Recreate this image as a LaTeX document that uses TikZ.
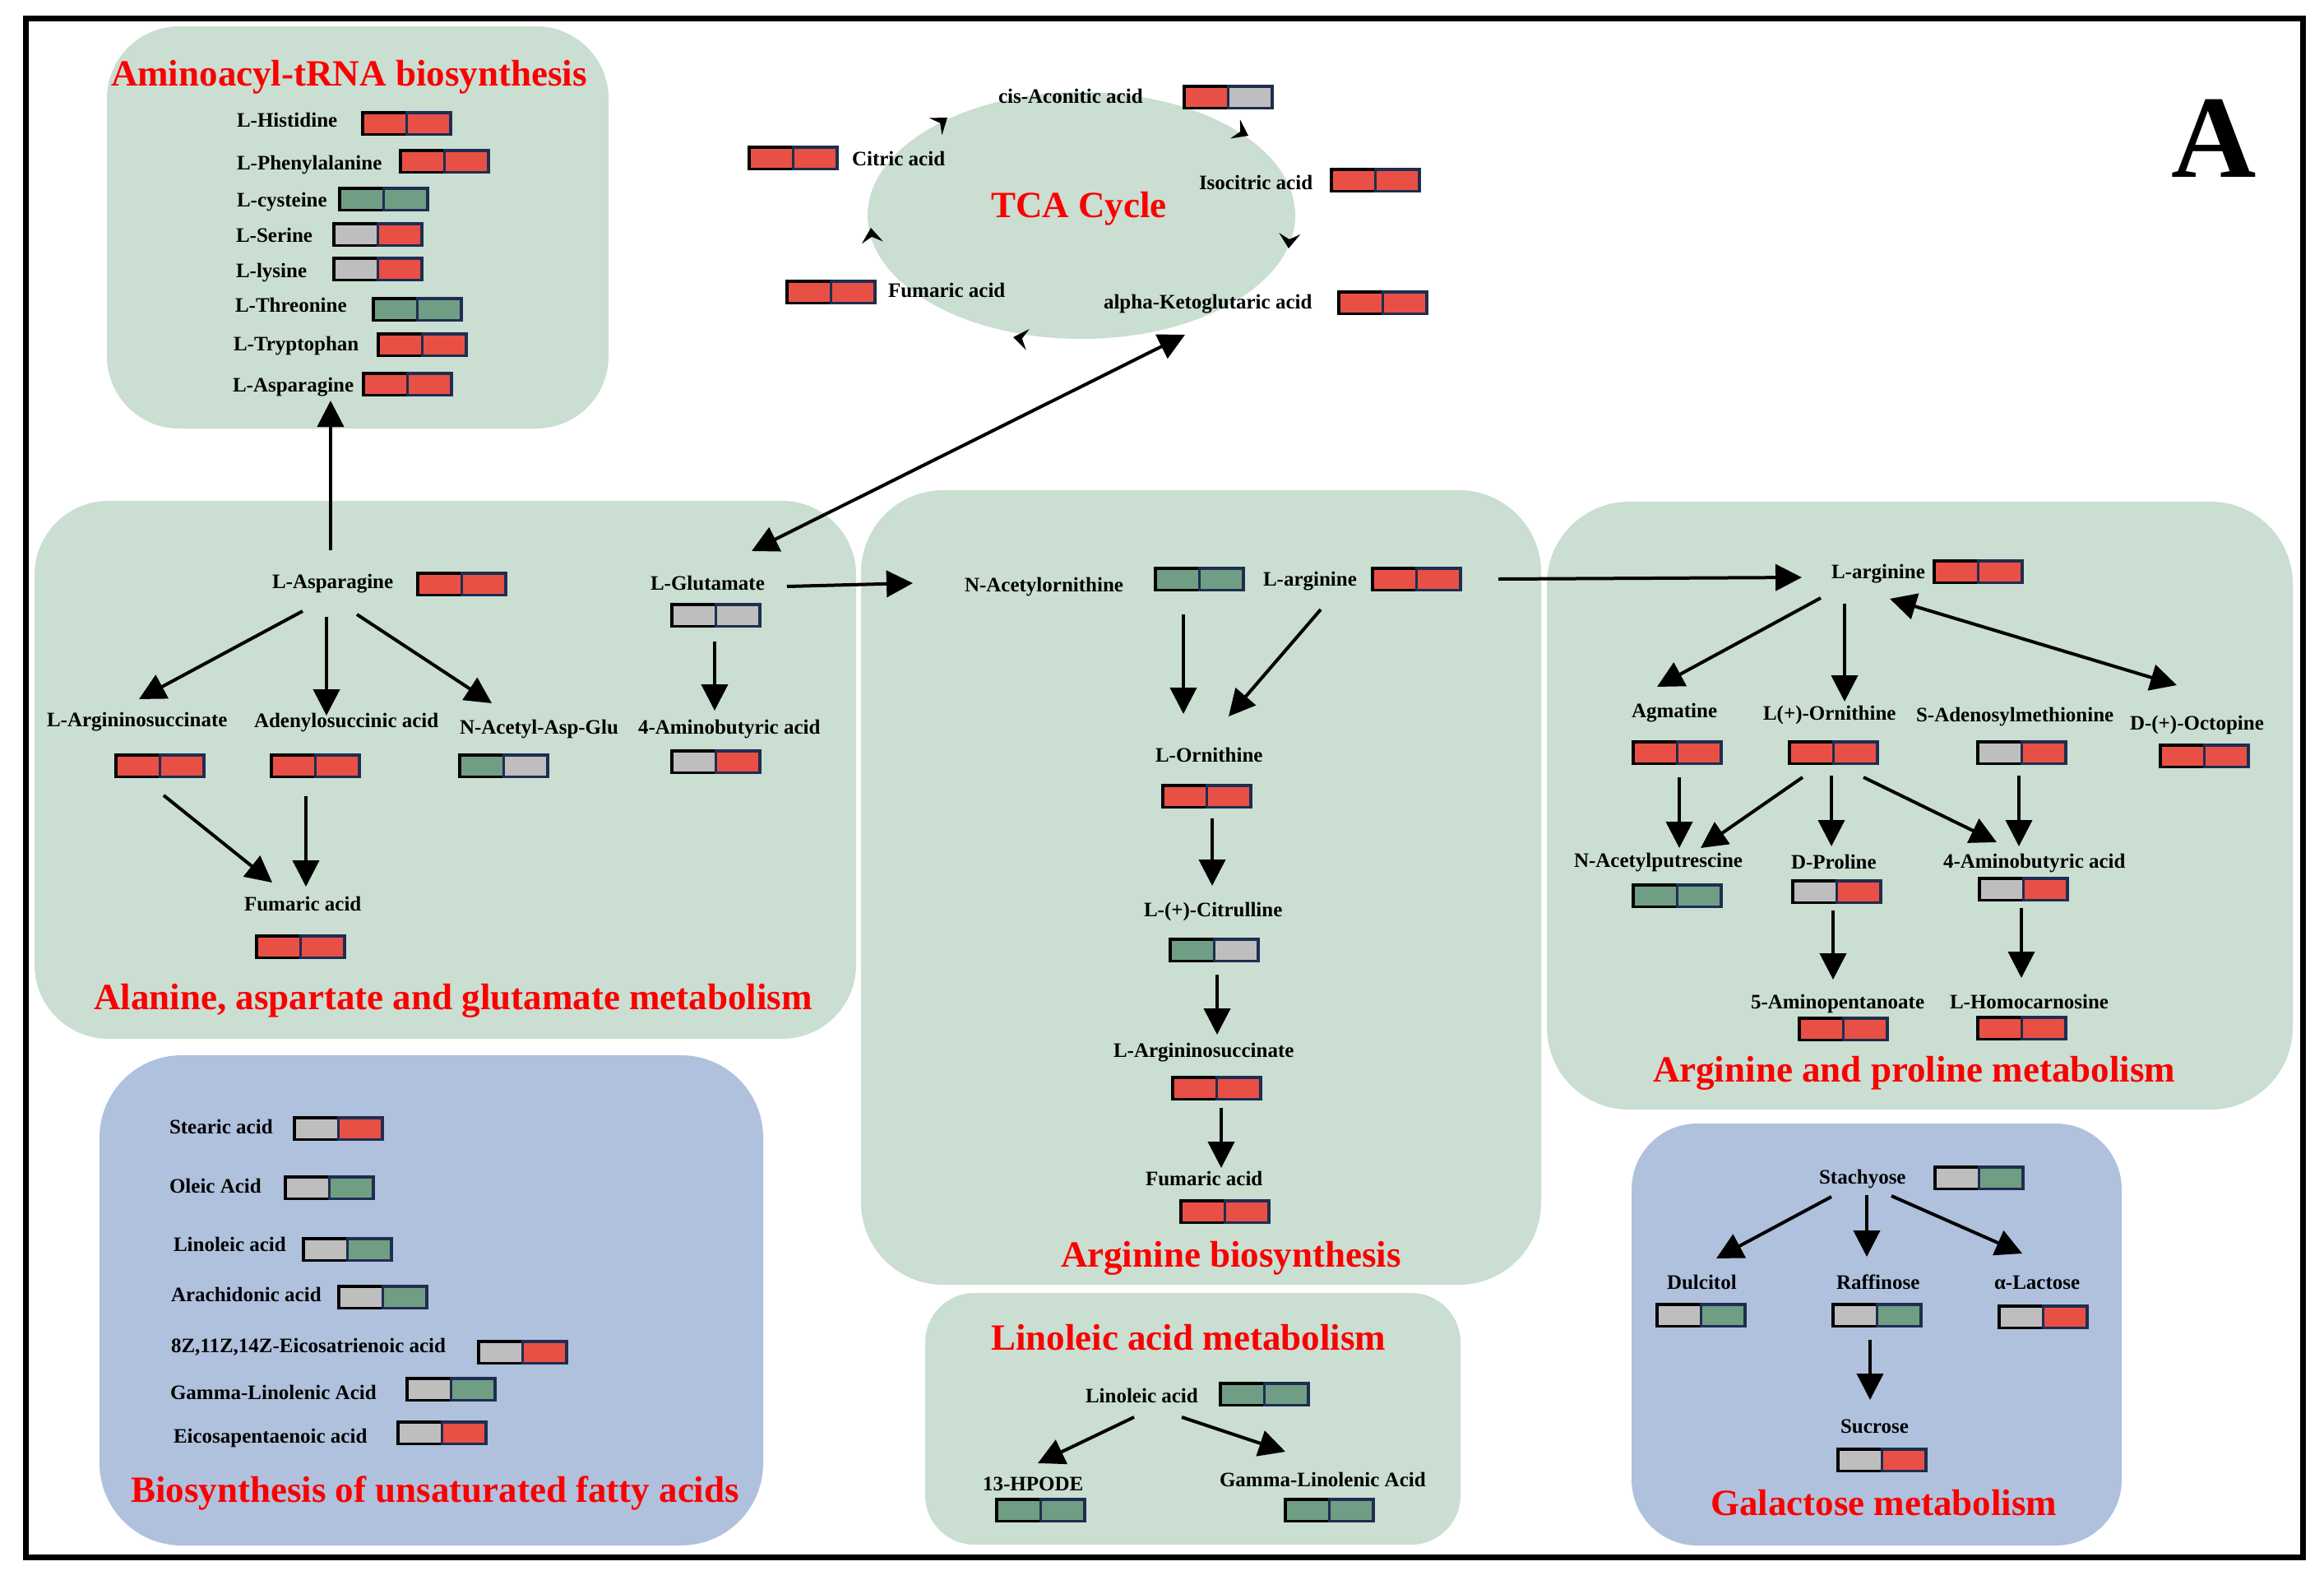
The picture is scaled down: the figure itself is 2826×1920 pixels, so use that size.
\documentclass[tikz,border=0pt]{standalone}
\usepackage{fontspec}
\setmainfont{Liberation Serif}
\usetikzlibrary{arrows.meta,calc,shapes.geometric}
\definecolor{panelG}{RGB}{202,222,210}
\definecolor{panelB}{RGB}{176,193,222}
\definecolor{sR}{RGB}{232,80,70}
\definecolor{sG}{RGB}{112,158,132}
\definecolor{sY}{RGB}{190,190,190}
\definecolor{navy}{RGB}{30,45,80}
\definecolor{titlered}{RGB}{250,0,0}
\newcommand\swatch[5]{\node[swl,fill=#4] (#1a) at (#2+28.5,#3) {};\node[swr,fill=#5] (#1b) at (#2+82,#3) {};}
\newcommand\tcahead[3]{\fill[shift={(#1,#2)},rotate=#3] (0,0) -- (-18,-13) -- (-11,0) -- (-18,13) -- cycle;}
\tikzset{
  lbl/.style={inner sep=0pt, outer sep=0pt, font=\bfseries\fontsize{25}{30}\selectfont, anchor=base west},
  ttl/.style={inner sep=0pt, outer sep=0pt, text=titlered, font=\bfseries\fontsize{45}{54}\selectfont, anchor=base west},
  swl/.style={draw=black, line width=3.5pt, minimum width=53.5pt, minimum height=26.5pt, inner sep=0pt, outer sep=0pt},
  swr/.style={swl, draw=navy},
  arr/.style={line width=4pt, -{Triangle[length=32pt,width=32pt]}},
  darr/.style={line width=4pt, {Triangle[length=32pt,width=32pt]}-{Triangle[length=32pt,width=32pt]}},
}
\begin{document}
\begin{tikzpicture}[x=1pt,y=-1pt]
\fill[white] (0,0) rectangle (2826,1920);
\useasboundingbox (0,0) rectangle (2826,1920);
% panels
\fill[panelG, rounded corners=88pt] (130,32) rectangle (740,521);
\fill[panelG, rounded corners=90pt] (42,609) rectangle (1041,1263);
\fill[panelG, rounded corners=100pt] (1047,596) rectangle (1874,1562);
\fill[panelG, rounded corners=100pt] (1881,610) rectangle (2788,1349);
\fill[panelB, rounded corners=100pt] (121,1283) rectangle (928,1879);
\fill[panelG, rounded corners=60pt] (1125,1572) rectangle (1776,1878);
\fill[panelB, rounded corners=80pt] (1984,1366) rectangle (2580,1879);
\node[ellipse, fill=panelG, minimum width=520pt, minimum height=300pt, inner sep=0pt] (tca) at (1315,262) {};
% frame
\draw[line width=7pt] (31,22) rectangle (2800,1893);
\node[inner sep=0pt, anchor=base west, font=\bfseries\fontsize{143}{150}\selectfont] (panelA) at (2640,215) {A};
% titles
\node[ttl] (aminoT) at (135,104) {Aminoacyl-tRNA biosynthesis};
\node[ttl] (tcaT) at (1205,264) {TCA Cycle};
\node[ttl] (alaT) at (114,1227) {Alanine, aspartate and glutamate metabolism};
\node[ttl] (argbT) at (1290,1540) {Arginine biosynthesis};
\node[ttl] (argpT) at (2010,1315) {Arginine and proline metabolism};
\node[ttl] (fatT) at (159,1826) {Biosynthesis of unsaturated fatty acids};
\node[ttl] (linT) at (1205,1641) {Linoleic acid metabolism};
\node[ttl] (galT) at (2080,1842) {Galactose metabolism};
% Aminoacyl-tRNA
\node[lbl] (his) at (288,154) {L-Histidine};
\node[lbl] (phe) at (288,206) {L-Phenylalanine};
\node[lbl] (cys) at (288,251) {L-cysteine};
\node[lbl] (ser) at (287,294) {L-Serine};
\node[lbl] (lys) at (287,337) {L-lysine};
\node[lbl] (thr) at (286,379) {L-Threonine};
\node[lbl] (trp) at (284,426) {L-Tryptophan};
\node[lbl] (asn1) at (283,476) {L-Asparagine};
\swatch{hisS}{439}{150}{sR}{sR}
\swatch{pheS}{485}{196}{sR}{sR}
\swatch{cysS}{411}{242}{sG}{sG}
\swatch{serS}{404}{285}{sY}{sR}
\swatch{lysS}{404}{327}{sY}{sR}
\swatch{thrS}{452}{376}{sG}{sG}
\swatch{trpS}{458}{419}{sR}{sR}
\swatch{asn1S}{440}{467}{sR}{sR}
% TCA
\node[lbl] (cisacon) at (1214,125) {cis-Aconitic acid};
\node[lbl] (citric) at (1036,201) {Citric acid};
\node[lbl] (isocit) at (1458,230) {Isocitric acid};
\node[lbl] (fumT) at (1080,361) {Fumaric acid};
\node[lbl] (akg) at (1342,375) {alpha-Ketoglutaric acid};
\swatch{cisaconS}{1438}{118}{sR}{sY}
\swatch{citricS}{909}{192}{sR}{sR}
\swatch{isocitS}{1617}{219}{sR}{sR}
\swatch{fumTS}{955}{355}{sR}{sR}
\swatch{akgS}{1626}{368}{sR}{sR}
\tcahead{1152}{143}{37}
\tcahead{1518}{165}{-27}
\tcahead{1567}{302}{-94}
\tcahead{1232}{410}{171}
\tcahead{1059}{277}{96}
% Alanine, aspartate and glutamate
\node[lbl] (asnA) at (331,715) {L-Asparagine};
\node[lbl] (gluA) at (791,717) {L-Glutamate};
\node[lbl] (argsA) at (57,883) {L-Argininosuccinate};
\node[lbl] (adeA) at (309,884) {Adenylosuccinic acid};
\node[lbl] (naagA) at (559,892) {N-Acetyl-Asp-Glu};
\node[lbl] (gabaA) at (776,892) {4-Aminobutyric acid};
\node[lbl] (fumA) at (297,1107) {Fumaric acid};
\swatch{asnAS}{506}{710}{sR}{sR}
\swatch{gluAS}{815}{748}{sY}{sY}
\swatch{argsAS}{139}{931}{sR}{sR}
\swatch{adeAS}{328}{931}{sR}{sR}
\swatch{naagAS}{557}{931}{sG}{sY}
\swatch{gabaAS}{815}{926}{sY}{sR}
\swatch{fumAS}{310}{1151}{sR}{sR}
% Arginine biosynthesis
\node[lbl] (naorn) at (1173,719) {N-Acetylornithine};
\node[lbl] (argB) at (1536,712) {L-arginine};
\node[lbl] (ornB) at (1405,926) {L-Ornithine};
\node[lbl] (citB) at (1391,1114) {L-(+)-Citrulline};
\node[lbl] (argsB) at (1354,1285) {L-Argininosuccinate};
\node[lbl] (fumB) at (1393,1441) {Fumaric acid};
\swatch{naornS}{1403}{704}{sG}{sG}
\swatch{argBS}{1667}{704}{sR}{sR}
\swatch{ornBS}{1412}{968}{sR}{sR}
\swatch{citBS}{1421}{1155}{sG}{sY}
\swatch{argsBS}{1424}{1323}{sR}{sR}
\swatch{fumBS}{1434}{1473}{sR}{sR}
% Arginine and proline
\node[lbl] (argP) at (2227,703) {L-arginine};
\node[lbl] (agm) at (1984,872) {Agmatine};
\node[lbl] (ornP) at (2144,875) {L(+)-Ornithine};
\node[lbl] (sam) at (2330,877) {S-Adenosylmethionine};
\node[lbl] (oct) at (2590,887) {D-(+)-Octopine};
\node[lbl] (nap) at (1914,1054) {N-Acetylputrescine};
\node[lbl] (pro) at (2178,1056) {D-Proline};
\node[lbl] (gabaP) at (2363,1055) {4-Aminobutyric acid};
\node[lbl] (ava) at (2129,1226) {5-Aminopentanoate};
\node[lbl] (hcar) at (2371,1226) {L-Homocarnosine};
\swatch{argPS}{2350}{695}{sR}{sR}
\swatch{agmS}{1984}{915}{sR}{sR}
\swatch{ornPS}{2174}{915}{sR}{sR}
\swatch{samS}{2403}{915}{sY}{sR}
\swatch{octS}{2625}{919}{sR}{sR}
\swatch{napS}{1984}{1089}{sG}{sG}
\swatch{proS}{2178}{1084}{sY}{sR}
\swatch{gabaPS}{2405}{1081}{sY}{sR}
\swatch{avaS}{2186}{1251}{sR}{sR}
\swatch{hcarS}{2403}{1250}{sR}{sR}
% Fatty acids
\node[lbl] (stea) at (206,1378) {Stearic acid};
\node[lbl] (olei) at (206,1450) {Oleic Acid};
\node[lbl] (linF) at (211,1521) {Linoleic acid};
\node[lbl] (arac) at (208,1582) {Arachidonic acid};
\node[lbl] (eico3) at (208,1644) {8Z,11Z,14Z-Eicosatrienoic acid};
\node[lbl] (glaF) at (207,1701) {Gamma-Linolenic Acid};
\node[lbl] (epa) at (211,1754) {Eicosapentaenoic acid};
\swatch{steaS}{356}{1372}{sY}{sR}
\swatch{oleiS}{345}{1444}{sY}{sG}
\swatch{linFS}{367}{1519}{sY}{sG}
\swatch{aracS}{410}{1577}{sY}{sG}
\swatch{eico3S}{580}{1644}{sY}{sR}
\swatch{glaFS}{493}{1689}{sY}{sG}
\swatch{epaS}{482}{1742}{sY}{sR}
% Linoleic acid metabolism
\node[lbl] (linL) at (1320,1705) {Linoleic acid};
\node[lbl] (hpode) at (1195,1812) {13-HPODE};
\node[lbl] (glaL) at (1483,1807) {Gamma-Linolenic Acid};
\swatch{linLS}{1482}{1695}{sG}{sG}
\swatch{hpodeS}{1210}{1836}{sG}{sG}
\swatch{glaLS}{1561}{1836}{sG}{sG}
% Galactose
\node[lbl] (sta) at (2212,1439) {Stachyose};
\node[lbl] (dul) at (2027,1567) {Dulcitol};
\node[lbl] (raf) at (2233,1567) {Raffinose};
\node[lbl] (lac) at (2425,1567) {α-Lactose};
\node[lbl] (suc) at (2238,1742) {Sucrose};
\swatch{staS}{2351}{1432}{sY}{sG}
\swatch{dulS}{2013}{1599}{sY}{sG}
\swatch{rafS}{2227}{1599}{sY}{sG}
\swatch{lacS}{2429}{1601}{sY}{sR}
\swatch{sucS}{2233}{1775}{sY}{sR}
% connectors
\draw[arr] ($(asnA.base west)+(71,-46)$) -- ($(asn1.base west)+(119,11)$);
\draw[arr] ($(asnA.base west)+(37,28)$) -- ($(argsA.base west)+(112,-33)$);
\draw[arr] ($(asnA.base west)+(66,35)$) -- ($(adeA.base west)+(88,-14)$);
\draw[arr] ($(asnA.base west)+(103,32)$) -- ($(naagA.base west)+(39,-37)$);
\draw[arr] ($(argsA.base west)+(142,84)$) -- ($(fumA.base west)+(34,-34)$);
\draw[arr] ($(adeA.base west)+(63,84)$) -- ($(fumA.base west)+(75,-29)$);
\draw[arr] ($(gluA.base west)+(78,63)$) -- ($(gabaA.base west)+(93,-28)$);
\draw[arr] ($(gluA.base west)+(166,-4)$) -- ($(naorn.base west)+(-63,-10)$);
\draw[darr] ($(gluA.base west)+(123,-47)$) -- ($(akg.base west)+(99,32)$);
\draw[arr] ($(naorn.base west)+(266,28)$) -- ($(ornB.base west)+(34,-58)$);
\draw[arr] ($(argB.base west)+(70,29)$) -- ($(ornB.base west)+(89,-55)$);
\draw[arr] ($(ornB.base west)+(69,69)$) -- ($(citB.base west)+(83,-37)$);
\draw[arr] ($(citB.base west)+(89,71)$) -- ($(argsB.base west)+(126,-27)$);
\draw[arr] ($(argsB.base west)+(131,62)$) -- ($(fumB.base west)+(92,-21)$);
\draw[arr] ($(argB.base west)+(286,-8)$) -- ($(argP.base west)+(-36,-1)$);
\draw[arr] ($(argP.base west)+(-13,24)$) -- ($(agm.base west)+(31,-37)$);
\draw[arr] ($(argP.base west)+(16,31)$) -- ($(ornP.base west)+(99,-22)$);
\draw[darr] ($(argP.base west)+(71,25)$) -- ($(oct.base west)+(57,-54)$);
\draw[arr] ($(agm.base west)+(58,73)$) -- ($(nap.base west)+(128,-23)$);
\draw[arr] ($(ornP.base west)+(48,70)$) -- ($(nap.base west)+(154,-23)$);
\draw[arr] ($(ornP.base west)+(83,68)$) -- ($(pro.base west)+(49,-27)$);
\draw[arr] ($(ornP.base west)+(122,70)$) -- ($(gabaP.base west)+(65,-31)$);
\draw[arr] ($(sam.base west)+(125,66)$) -- ($(gabaP.base west)+(92,-26)$);
\draw[arr] ($(pro.base west)+(51,51)$) -- ($(ava.base west)+(100,-35)$);
\draw[arr] ($(gabaP.base west)+(95,49)$) -- ($(hcar.base west)+(87,-37)$);
\draw[arr] ($(linL.base west)+(59,18)$) -- ($(hpode.base west)+(67,-33)$);
\draw[arr] ($(linL.base west)+(117,18)$) -- ($(glaL.base west)+(80,-42)$);
\draw[arr] ($(sta.base west)+(15,16)$) -- ($(dul.base west)+(60,-37)$);
\draw[arr] ($(sta.base west)+(58,14)$) -- ($(raf.base west)+(37,-39)$);
\draw[arr] ($(sta.base west)+(88,15)$) -- ($(lac.base west)+(34,-43)$);
\draw[arr] ($(raf.base west)+(41,62)$) -- ($(suc.base west)+(36,-40)$);
\end{tikzpicture}
\end{document}
